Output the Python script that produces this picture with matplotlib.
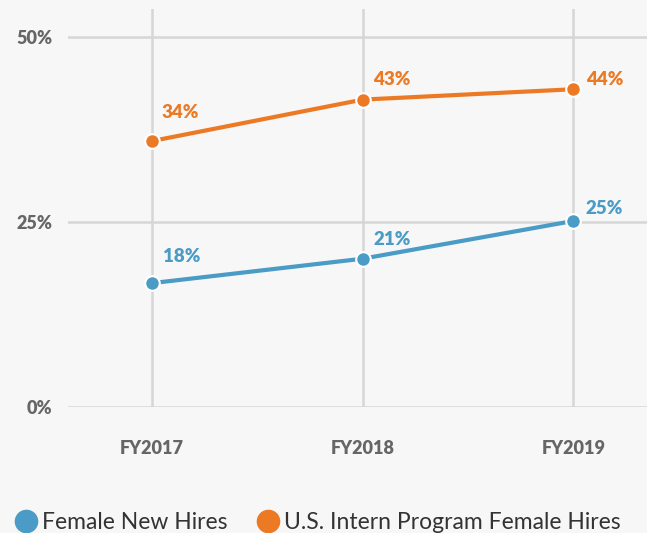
import matplotlib
matplotlib.use('Agg')
import matplotlib.pyplot as plt
from matplotlib.lines import Line2D

# data (dot heights) and the labels printed next to them
years = ['FY2017', 'FY2018', 'FY2019']
new_hires = [16.7, 20.0, 25.1]
intern_hires = [35.9, 41.5, 42.9]
new_hires_labels = ['18%', '21%', '25%']
intern_hires_labels = ['34%', '43%', '44%']
y_ticks = [0, 25, 50]

blue = '#4A9CC7'
orange = '#EC7A24'
grid_col = '#D6D6D6'
tick_col = '#666666'
bg = '#F7F7F7'

plt.rcParams['font.family'] = ['Lato', 'DejaVu Sans']

fig = plt.figure(figsize=(6.47, 5.33), dpi=100, facecolor=bg)
ax = fig.add_axes([68 / 647, 1 - 406.7 / 533, 1 - 68 / 647, (406.7 - 9) / 533])
ax.set_facecolor(bg)

x = list(range(len(years)))

# grid
for yv in y_ticks:
    ax.axhline(yv, color=grid_col, lw=1.8, zorder=1)
for xv in x:
    ax.axvline(xv, color=grid_col, lw=1.8, zorder=0)

ax.plot(x, intern_hires, color=orange, lw=3, marker='o', ms=10.5,
        markeredgecolor='white', markeredgewidth=1.5, zorder=3, clip_on=False)
ax.plot(x, new_hires, color=blue, lw=3, marker='o', ms=10.5,
        markeredgecolor='white', markeredgewidth=1.5, zorder=3, clip_on=False)

# label offsets in pixels (dx, dy)
intern_offsets = [(10, 29), (10, 20), (13, 10)]
new_offsets = [(11, 27), (11, 19), (12, 12)]
for i in x:
    ax.annotate(intern_hires_labels[i], (x[i], intern_hires[i]),
                xytext=(intern_offsets[i][0] * 0.72, intern_offsets[i][1] * 0.72),
                textcoords='offset points', color=orange, fontsize=13.5,
                fontweight='heavy', va='center', ha='left')
    ax.annotate(new_hires_labels[i], (x[i], new_hires[i]),
                xytext=(new_offsets[i][0] * 0.72, new_offsets[i][1] * 0.72),
                textcoords='offset points', color=blue, fontsize=13.5,
                fontweight='heavy', va='center', ha='left')

ax.set_xlim(-84 / 210.7, (647 - 152) / 210.7)
ax.set_ylim(0, (406.7 - 9) / 7.4)

ax.set_yticks(y_ticks)
ax.set_yticklabels([f'{v}%' for v in y_ticks])
ax.set_xticks(x)
ax.set_xticklabels(years)
ax.tick_params(axis='y', length=0, pad=11, labelsize=13, labelcolor=tick_col)
ax.tick_params(axis='x', length=0, pad=24, labelsize=13, labelcolor=tick_col)
for lbl in ax.get_xticklabels() + ax.get_yticklabels():
    lbl.set_fontweight('heavy')

for s in ax.spines.values():
    s.set_visible(False)

handles = [
    Line2D([], [], ls='none', marker='o', ms=16, color=blue, label='Female New Hires'),
    Line2D([], [], ls='none', marker='o', ms=16, color=orange, label='U.S. Intern Program Female Hires'),
]
fig.legend(handles=handles, loc='lower left', bbox_to_anchor=(-0.01, -0.038), ncol=2,
           frameon=False, fontsize=16.5, handlelength=1.0, handletextpad=0.2,
           columnspacing=1.3, labelcolor='#333333')

fig.savefig('out.png', dpi=100, facecolor=bg)
